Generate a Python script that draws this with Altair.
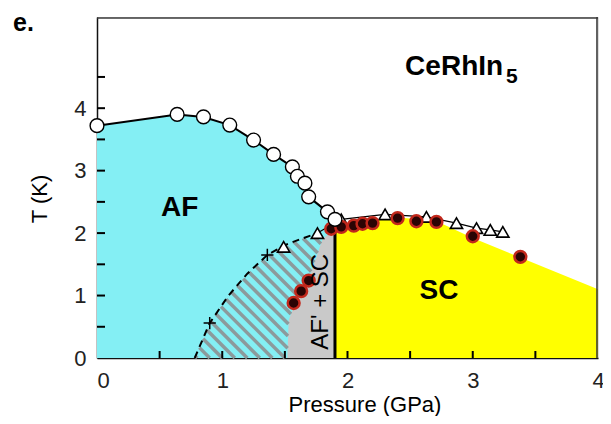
import numpy as np
import pandas as pd
import altair as alt

# ---------------- data ----------------
# Neel temperature (open circles), GPa / K
tn_p = [0.00, 0.64, 0.85, 1.06, 1.25, 1.41, 1.56, 1.60, 1.66, 1.69, 1.84, 1.90]
tn_t = [3.72, 3.90, 3.86, 3.73, 3.49, 3.26, 3.06, 2.91, 2.80, 2.58, 2.34, 2.22]

# superconducting Tc (filled dots)
tc_p = [1.57, 1.63, 1.69, 1.87, 1.95, 2.05, 2.12, 2.20, 2.40, 2.55, 2.71, 3.00, 3.38]
tc_t = [0.88, 1.07, 1.24, 2.07, 2.10, 2.12, 2.15, 2.16, 2.24, 2.19, 2.18, 1.95, 1.62]

# open triangles
tri_p = [1.49, 1.76, 1.95, 2.30, 2.63, 2.87, 3.03, 3.14, 3.24]
tri_t = [1.78, 2.00, 2.22, 2.30, 2.26, 2.16, 2.08, 2.05, 2.02]

# crosses
cr_p = [0.90, 1.36]
cr_t = [0.56, 1.65]

# AF' boundary (dashed)
dash_p = [0.78, 0.90, 1.05, 1.20, 1.36, 1.49, 1.62, 1.76]
dash_t = [0.00, 0.56, 1.00, 1.35, 1.65, 1.80, 1.90, 2.00]

# SC region upper edge (yellow)
sc_p = [1.90, 2.00, 2.20, 2.40, 2.70, 3.00, 4.00]
sc_t = [2.05, 2.12, 2.20, 2.25, 2.20, 1.92, 1.10]

# AF'+SC (grey) left edge, as function of T
grey_t = [0.00, 0.60, 0.88, 1.07, 1.26, 1.90, 2.02]
grey_p = [1.52, 1.53, 1.58, 1.64, 1.69, 1.80, 1.87]
p_c = 1.90  # vertical boundary

x_ticks = [0, 1, 2, 3, 4]
y_ticks = [0, 1, 2, 3, 4]
minor_x = [0.5, 1.0, 1.5, 2.0, 2.5, 3.0, 3.5]
minor_y = [0.5, 1.0, 1.5, 2.0, 2.5, 3.0, 3.5, 4.0, 4.5]

# ---------------- layout ----------------
W, H = 501, 341
XD = [0, 4]
YD = [0, 5.46]
FONT = "Liberation Sans"

xs = alt.Scale(domain=XD, nice=False, zero=False)
ys = alt.Scale(domain=YD, nice=False, zero=False)

# cyan AF region (under TN curve)
af_df = pd.DataFrame({"p": tn_p, "t": tn_t, "b": 0.0})
af_area = alt.Chart(af_df).mark_area(color="#84eff4", opacity=1, interpolate="linear").encode(
    x=alt.X("p:Q", scale=xs, axis=alt.Axis(values=x_ticks, title=None, tickSize=0, labelFontSize=22,
                                           format="d", labelFlush=False,
                                           labelAlign={"expr": "datum.value == 0 ? 'left' : 'center'"},
                                           labelFont=FONT, labelColor="#222", labelPadding=12,
                                           domainColor="#111", domainWidth=1.5, grid=False)),
    y=alt.Y("t:Q", scale=ys, axis=alt.Axis(values=y_ticks, title=None, tickSize=0, labelFontSize=22,
                                           format="d",
                                           labelFont=FONT, labelColor="#222", labelPadding=11,
                                           domainColor="#111", domainWidth=1.5, grid=False)),
    y2="b:Q",
)

PX = alt.X("p:Q", scale=xs)
PY = alt.Y("t:Q", scale=ys)

sc_df = pd.DataFrame({"p": sc_p, "t": sc_t, "b": 0.0})
sc_area = alt.Chart(sc_df).mark_area(color="#ffff00", opacity=1).encode(x=PX, y=PY, y2="b:Q")

grey_df = pd.DataFrame({"t": grey_t, "p": grey_p, "pc": p_c})
grey_area = alt.Chart(grey_df).mark_area(color="#c9c9c9", opacity=1, orient="horizontal").encode(
    y=PY, x=PX, x2="pc:Q")

# hatch stripes between the dashed boundary and the grey region
slope = -(W / (XD[1] - XD[0])) / (H / (YD[1] - YD[0]))  # 45 deg in pixels
t_top = 1.95
tt = np.linspace(0, t_top, 800)
xl = np.interp(tt, dash_t, dash_p)
xr = np.interp(tt, grey_t, grey_p)
segs = []
sid = 0
for c in np.arange(0.70, 2.9, 0.1):
    xline = c + tt / slope
    inside = (xline >= xl) & (xline <= xr)
    idx = np.where(inside)[0]
    if len(idx) < 2:
        continue
    runs = np.split(idx, np.where(np.diff(idx) != 1)[0] + 1)
    for r in runs:
        if len(r) < 2:
            continue
        for k in (r[0], r[-1]):
            segs.append({"sid": sid, "p": xline[k], "t": tt[k], "o": int(k)})
        sid += 1
hatch_df = pd.DataFrame(segs)
hatch = alt.Chart(hatch_df).mark_line(color="#8c9a9c", strokeWidth=3.5, strokeCap="butt").encode(
    x=PX, y=PY, detail="sid:N", order="o:Q")

# vertical boundary line at p_c
vline = alt.Chart(pd.DataFrame({"p": [p_c], "t": [0.0], "t1": [2.05]})).mark_rule(
    color="black", strokeWidth=3).encode(x=PX, y=PY, y2="t1:Q")

tn_df = pd.DataFrame({"p": tn_p, "t": tn_t})
tn_line = alt.Chart(tn_df).mark_line(color="black", strokeWidth=2).encode(x=PX, y=PY)

dash_df = pd.DataFrame({"p": dash_p, "t": dash_t})
dash_line = alt.Chart(dash_df).mark_line(color="black", strokeWidth=2, strokeDash=[7, 5]).encode(
    x=PX, y=PY)

tri_df = pd.DataFrame({"p": tri_p, "t": tri_t})
tri_line = alt.Chart(tri_df.iloc[1:]).mark_line(color="black", strokeWidth=1.2).encode(x=PX, y=PY)
tri_pts = alt.Chart(tri_df).mark_point(shape="triangle-up", filled=True, fill="white", stroke="black",
                                       strokeWidth=1.6, size=150, opacity=1).encode(x=PX, y=PY)

cr_df = pd.DataFrame({"p": cr_p, "t": cr_t})
cr_pts = alt.Chart(cr_df).mark_point(shape="M-1,0H1M0,-1V1", filled=False, stroke="black",
                                     strokeWidth=1.5, size=150, opacity=1).encode(x=PX, y=PY)

tn_pts = alt.Chart(tn_df).mark_point(shape="circle", filled=True, fill="white", stroke="black",
                                     strokeWidth=1.4, size=190, opacity=1).encode(x=PX, y=PY)

tc_df = pd.DataFrame({"p": tc_p, "t": tc_t})
tc_pts = alt.Chart(tc_df).mark_point(shape="circle", filled=True, fill="#2a0404", stroke="#c2281c",
                                     strokeWidth=2.5, size=140, opacity=1).encode(x=PX, y=PY)

# inward ticks
xt = alt.Chart(pd.DataFrame({"p": minor_x})).mark_rule(color="black", strokeWidth=2).encode(
    x=PX, y=alt.value(H), y2=alt.value(H - 7))
yt = alt.Chart(pd.DataFrame({"t": minor_y})).mark_rule(color="black", strokeWidth=2).encode(
    y=PY, x=alt.value(0), x2=alt.value(8))

# frame (top and right), drawn just inside the plot edge
ftop = alt.Chart(pd.DataFrame({"k": [1]})).mark_rule(color="#3a3a3a", strokeWidth=1.6).encode(
    x=alt.value(0), x2=alt.value(W), y=alt.value(1))
fright = alt.Chart(pd.DataFrame({"k": [2]})).mark_rule(color="#3a3a3a", strokeWidth=1.6).encode(
    x=alt.value(W - 1), y=alt.value(0), y2=alt.value(H))


def label(txt, x, y, size, weight="bold", angle=0, align="center", baseline="middle"):
    return alt.Chart(pd.DataFrame({"a": [0]})).mark_text(
        text=txt, font=FONT, fontSize=size, fontWeight=weight, angle=angle, align=align,
        baseline=baseline, color="black").encode(x=x, y=y)


af_lbl = label("AF", alt.datum(0.66, scale=xs), alt.datum(2.40, scale=ys), 28)
sc_lbl = label("SC", alt.datum(2.73, scale=xs), alt.datum(1.07, scale=ys), 28)
mix_lbl = label("AF' + SC", alt.datum(1.79, scale=xs), alt.datum(0.90, scale=ys), 24, weight="normal",
                angle=270)
comp1 = label("CeRhIn", alt.datum(2.46, scale=xs), alt.datum(4.53, scale=ys), 28, align="left",
              baseline="alphabetic")
comp2 = label("5", alt.datum(3.265, scale=xs), alt.datum(4.40, scale=ys), 21, align="left",
              baseline="alphabetic")
panel = label("e.", alt.value(-84), alt.value(14), 25, align="left", baseline="alphabetic")
ytitle = label("T  (K)", alt.value(-57), alt.value(182), 22, weight="normal", angle=270)
xtitle = label("Pressure  (GPa)", alt.value(268), alt.value(395), 22, weight="normal",
               baseline="alphabetic")

chart = alt.layer(
    af_area, sc_area, grey_area, hatch, vline, tn_line, dash_line, tri_line,
    tri_pts, cr_pts, tc_pts, tn_pts, xt, yt, ftop, fright,
    af_lbl, sc_lbl, mix_lbl, comp1, comp2, panel, ytitle, xtitle,
).properties(
    width=W, height=H,
    autosize=alt.AutoSizeParams(type="none"),
    padding={"left": 89, "top": 9, "right": 5, "bottom": 58},
).configure_view(stroke="#3a3a3a", strokeWidth=1.2).configure(background="white")

chart.save("out.html", embed_options={"renderer": "svg", "actions": False})
